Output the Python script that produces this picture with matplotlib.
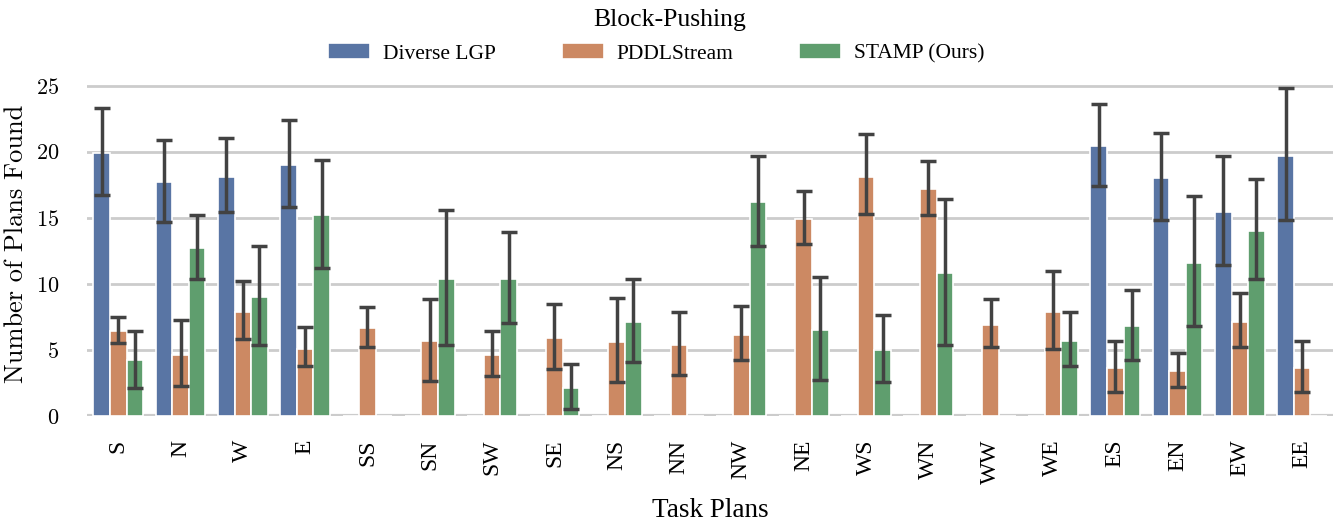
import numpy as np
import matplotlib.pyplot as plt

# Block-Pushing: number of plans found per task plan (mean with error bars)
tasks = ['S', 'N', 'W', 'E', 'SS', 'SN', 'SW', 'SE', 'NS', 'NN',
         'NW', 'NE', 'WS', 'WN', 'WW', 'WE', 'ES', 'EN', 'EW', 'EE']
methods = ['Diverse LGP', 'PDDLStream', 'STAMP (Ours)']

# means
lgp = [19.9, 17.7, 18.1, 19.0, 0, 0, 0, 0, 0, 0,
       0, 0, 0, 0, 0, 0, 20.4, 18.0, 15.4, 19.7]
pddl = [6.4, 4.6, 7.9, 5.1, 6.65, 5.65, 4.6, 5.9, 5.6, 5.4,
        6.1, 14.9, 18.1, 17.15, 6.9, 7.9, 3.6, 3.4, 7.1, 3.6]
stamp = [4.2, 12.7, 9.0, 15.2, 0, 10.4, 10.4, 2.1, 7.1, 0,
         16.2, 6.5, 5.0, 10.8, 0, 5.7, 6.8, 11.6, 14.0, 0]

# error bar lows / highs (None where no bar)
lgp_lo = [16.7, 14.7, 15.4, 15.8, None, None, None, None, None, None,
          None, None, None, None, None, None, 17.4, 14.8, 11.4, 14.8]
lgp_hi = [23.3, 20.9, 21.0, 22.4, None, None, None, None, None, None,
          None, None, None, None, None, None, 23.6, 21.4, 19.7, 24.8]
pddl_lo = [5.5, 2.25, 5.85, 3.75, 5.25, 2.65, 3.05, 3.55, 2.55, 3.1,
           4.2, 13.0, 15.3, 15.2, 5.2, 5.05, 1.85, 2.2, 5.2, 1.85]
pddl_hi = [7.5, 7.25, 10.2, 6.75, 8.25, 8.85, 6.45, 8.45, 8.95, 7.9,
           8.3, 17.0, 21.3, 19.3, 8.85, 10.95, 5.65, 4.8, 9.3, 5.65]
stamp_lo = [2.1, 10.4, 5.35, 11.2, None, 5.4, 7.05, 0.5, 4.05, None,
            12.9, 2.7, 2.55, 5.4, None, 3.8, 4.25, 6.8, 10.4, None]
stamp_hi = [6.45, 15.2, 12.9, 19.4, None, 15.6, 13.9, 3.9, 10.35, None,
            19.7, 10.5, 7.65, 16.4, None, 7.85, 9.55, 16.65, 17.9, None]

colors = ['#5975a4', '#cc8963', '#5f9e6e']
times = ['Liberation Serif', 'DejaVu Serif']
cm = ['cmr10', 'DejaVu Serif']

plt.rcParams['axes.formatter.use_mathtext'] = True

fig = plt.figure(figsize=(13.4, 5.23), dpi=100)
ax = fig.add_axes([0.065, 0.2046, 0.93, 0.657])

x = np.arange(len(tasks))
w = 0.8 / 3
series = [(lgp, lgp_lo, lgp_hi), (pddl, pddl_lo, pddl_hi), (stamp, stamp_lo, stamp_hi)]
for i, (vals, lo, hi) in enumerate(series):
    pos = x + (i - 1) * w
    ax.bar(pos, vals, width=w, color=colors[i], edgecolor='white',
           linewidth=1.2, label=methods[i], zorder=2)
    for p, v, l, h in zip(pos, vals, lo, hi):
        if l is None:
            continue
        ax.errorbar(p, v, yerr=[[v - l], [h - v]], fmt='none', ecolor='#424242',
                    elinewidth=2.5, capsize=5.5, capthick=2.5, zorder=3)

ax.set_xlim(-0.5, len(tasks) - 0.5)
ax.set_ylim(0, 26)
ax.set_yticks([0, 5, 10, 15, 20, 25])
ax.grid(axis='y', color='#cccccc', linewidth=2, zorder=0)
ax.set_axisbelow(True)
for s in ax.spines.values():
    s.set_visible(False)
ax.axhline(0, color='#cccccc', linewidth=3, zorder=1)
ax.tick_params(axis='x', length=0, pad=17)
ax.tick_params(axis='y', length=0, pad=20, labelsize=16, labelfontfamily=cm)

ax.set_xticks(x)
ax.set_xticklabels(tasks, rotation=90, family=times, fontsize=17)

ax.set_xlabel('Task Plans', family=times, fontsize=19.5, labelpad=10)
ax.set_ylabel('Number of Plans Found', family=cm, fontsize=19, labelpad=6)

fig.suptitle('Block-Pushing', family=times, fontsize=18.5, y=0.982)
leg = ax.legend(loc='lower center', bbox_to_anchor=(0.457, 1.0), ncol=3,
                frameon=False, prop={'family': times, 'size': 15.5},
                handlelength=1.95, handleheight=0.75, columnspacing=3.05,
                handletextpad=0.6, borderaxespad=0)

fig.savefig('out.png', dpi=100)
